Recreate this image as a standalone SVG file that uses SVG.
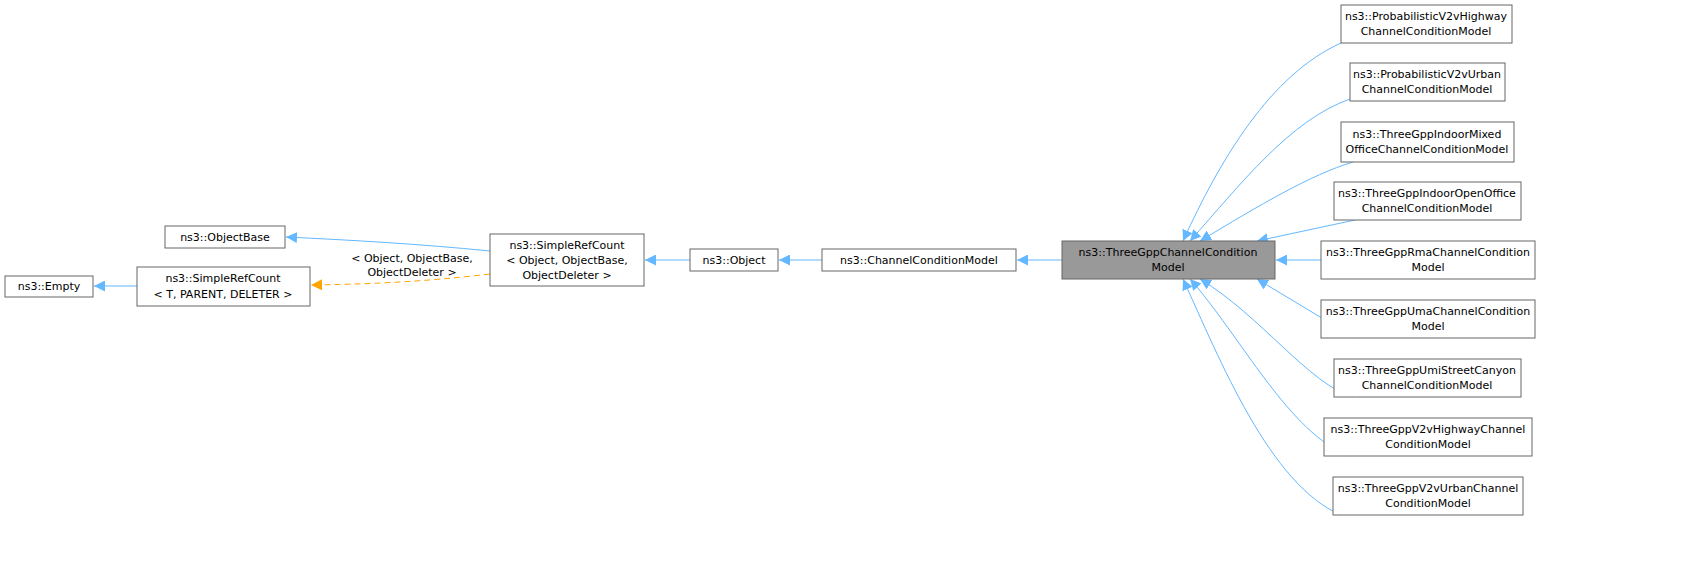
<svg xmlns="http://www.w3.org/2000/svg" width="1696" height="563" viewBox="0 0 1696 563">
<style>
.n rect{fill:#fff;stroke:#666;stroke-width:1}
.n text,.lbl{font-family:"DejaVu Sans",sans-serif;font-size:11px;fill:#000;text-anchor:middle}
.e{fill:none;stroke:#63b8ff;stroke-width:1}
.d{fill:none;stroke:#ffa500;stroke-width:1;stroke-dasharray:6,4}
</style>
<defs>
<marker id="a" viewBox="0 0 10 10" refX="10" refY="5" markerWidth="11" markerHeight="11" markerUnits="userSpaceOnUse" orient="auto"><path d="M0,0L10,5L0,10z" fill="#63b8ff"/></marker>
<marker id="o" viewBox="0 0 10 10" refX="10" refY="5" markerWidth="11" markerHeight="11" markerUnits="userSpaceOnUse" orient="auto"><path d="M0,0L10,5L0,10z" fill="#ffa500"/></marker>
</defs>
<rect width="1696" height="563" fill="#fff"/>
<g id="edges">
<path class="e" marker-end="url(#a)" d="M137,286H94"/>
<path class="e" marker-end="url(#a)" d="M490,251C420,244 350,240 286,237"/>
<path class="d" marker-end="url(#o)" d="M490,274C430,281 380,284 311,285"/>
<text class="lbl" x="412" y="262">&lt; Object, ObjectBase,</text>
<text class="lbl" x="412" y="276">ObjectDeleter &gt;</text>
<path class="e" marker-end="url(#a)" d="M690,260H645"/>
<path class="e" marker-end="url(#a)" d="M822,260H779"/>
<path class="e" marker-end="url(#a)" d="M1062,260H1017"/>
<path class="e" marker-end="url(#a)" d="M1321,260H1276"/>
<path class="e" marker-end="url(#a)" d="M1341,43C1270,75 1220,160 1183,241"/>
<path class="e" marker-end="url(#a)" d="M1350,99C1290,120 1240,185 1190,241"/>
<path class="e" marker-end="url(#a)" d="M1353,162C1310,175 1260,205 1200,241"/>
<path class="e" marker-end="url(#a)" d="M1355,220L1257,241"/>
<path class="e" marker-end="url(#a)" d="M1355,338L1257,279"/>
<path class="e" marker-end="url(#a)" d="M1353,397C1310,385 1260,315 1200,279"/>
<path class="e" marker-end="url(#a)" d="M1350,456C1290,435 1240,335 1190,279"/>
<path class="e" marker-end="url(#a)" d="M1341,515C1270,485 1220,360 1183,279"/>
</g>
<g id="n_empty" class="n"><rect x="5" y="276" width="88" height="21"/><text x="49" y="290">ns3::Empty</text></g>
<g id="n_src_t" class="n"><rect x="137" y="267" width="173" height="39"/><text x="223" y="282">ns3::SimpleRefCount</text><text x="223" y="298">&lt; T, PARENT, DELETER &gt;</text></g>
<g id="n_objbase" class="n"><rect x="165" y="226" width="120" height="22"/><text x="225" y="241">ns3::ObjectBase</text></g>
<g id="n_src_o" class="n"><rect x="490" y="234" width="154" height="52"/><text x="567" y="249">ns3::SimpleRefCount</text><text x="567" y="264">&lt; Object, ObjectBase,</text><text x="567" y="279">ObjectDeleter &gt;</text></g>
<g id="n_object" class="n"><rect x="690" y="249" width="88" height="22"/><text x="734" y="264">ns3::Object</text></g>
<g id="n_ccm" class="n"><rect x="822" y="249" width="194" height="22"/><text x="919" y="264">ns3::ChannelConditionModel</text></g>
<g id="n_3gpp" class="n"><rect x="1062" y="241" width="213" height="38" style="fill:#999"/><text x="1168" y="256">ns3::ThreeGppChannelCondition</text><text x="1168" y="271">Model</text></g>
<g id="n1" class="n"><rect x="1341" y="5" width="171" height="38"/><text x="1426" y="20">ns3::ProbabilisticV2vHighway</text><text x="1426" y="35">ChannelConditionModel</text></g>
<g id="n2" class="n"><rect x="1350" y="63" width="155" height="38"/><text x="1427" y="78">ns3::ProbabilisticV2vUrban</text><text x="1427" y="93">ChannelConditionModel</text></g>
<g id="n3" class="n"><rect x="1341" y="122" width="173" height="40"/><text x="1427" y="138">ns3::ThreeGppIndoorMixed</text><text x="1427" y="153">OfficeChannelConditionModel</text></g>
<g id="n4" class="n"><rect x="1334" y="182" width="187" height="38"/><text x="1427" y="197">ns3::ThreeGppIndoorOpenOffice</text><text x="1427" y="212">ChannelConditionModel</text></g>
<g id="n5" class="n"><rect x="1321" y="241" width="214" height="38"/><text x="1428" y="256">ns3::ThreeGppRmaChannelCondition</text><text x="1428" y="271">Model</text></g>
<g id="n6" class="n"><rect x="1321" y="300" width="214" height="38"/><text x="1428" y="315">ns3::ThreeGppUmaChannelCondition</text><text x="1428" y="330">Model</text></g>
<g id="n7" class="n"><rect x="1334" y="359" width="187" height="38"/><text x="1427" y="374">ns3::ThreeGppUmiStreetCanyon</text><text x="1427" y="389">ChannelConditionModel</text></g>
<g id="n8" class="n"><rect x="1324" y="418" width="208" height="38"/><text x="1428" y="433">ns3::ThreeGppV2vHighwayChannel</text><text x="1428" y="448">ConditionModel</text></g>
<g id="n9" class="n"><rect x="1333" y="477" width="190" height="38"/><text x="1428" y="492">ns3::ThreeGppV2vUrbanChannel</text><text x="1428" y="507">ConditionModel</text></g>
</svg>
